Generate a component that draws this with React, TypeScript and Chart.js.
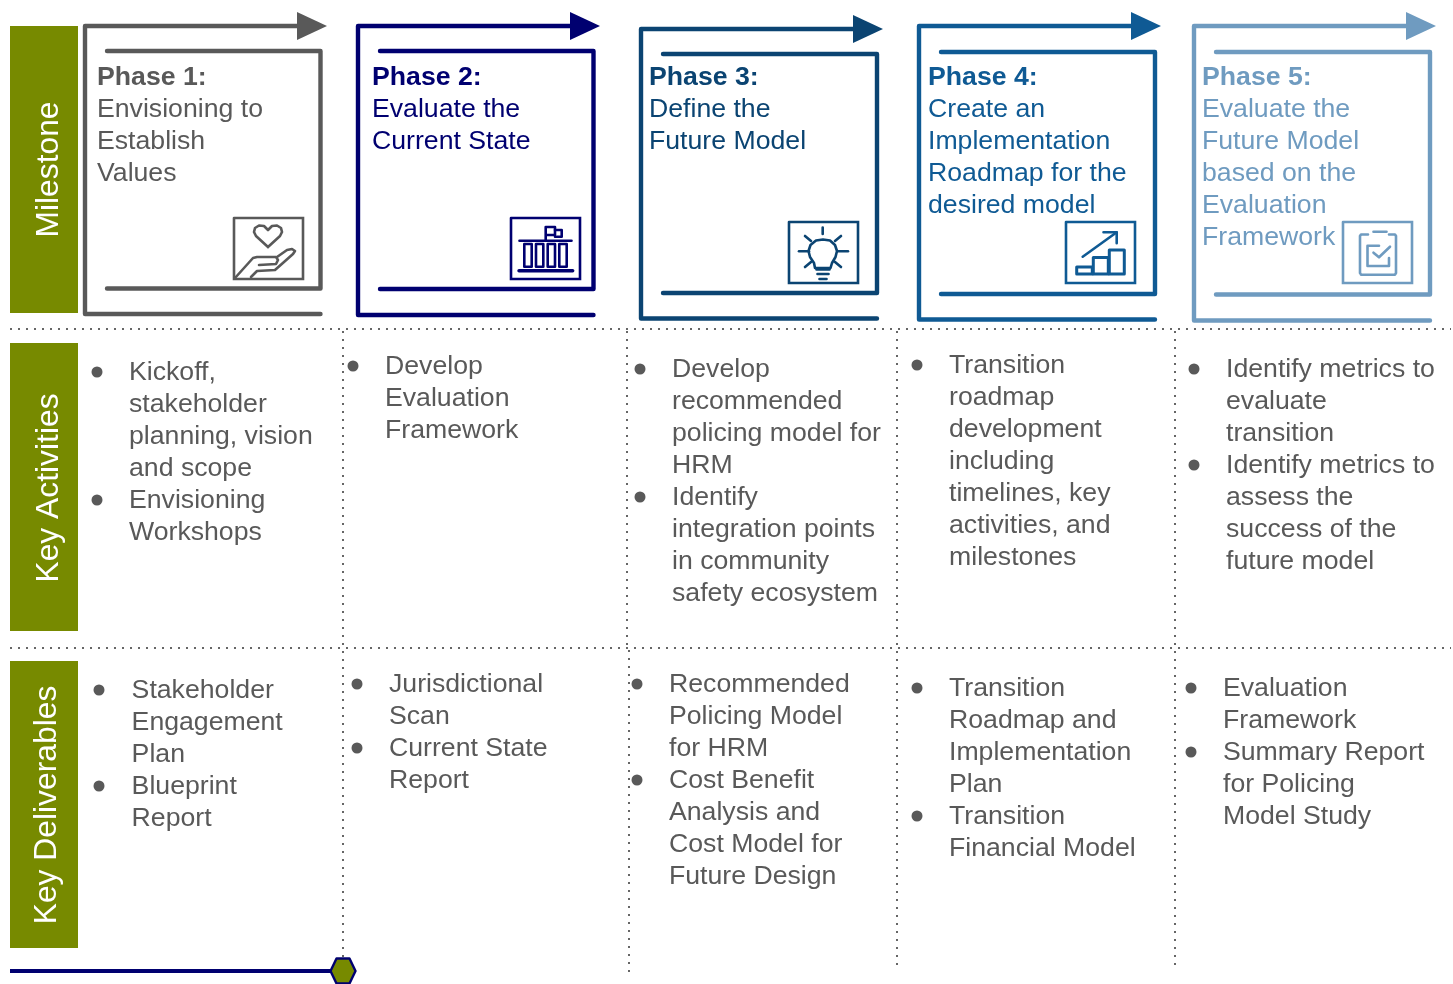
import React, { useEffect, useRef } from "react";
import { Chart, registerables } from "chart.js";

Chart.register(...registerables);

type P = [number, number];

// ---- text content ----
const rowLabels = ["Milestone", "Key Activities", "Key Deliverables"];
const phaseTitles = ["Phase 1:", "Phase 2:", "Phase 3:", "Phase 4:", "Phase 5:"];
const phaseBodies = [
  ["Envisioning to", "Establish", "Values"],
  ["Evaluate the", "Current State"],
  ["Define the", "Future Model"],
  ["Create an", "Implementation", "Roadmap for the", "desired model"],
  ["Evaluate the", "Future Model", "based on the", "Evaluation", "Framework"],
];
const activities = [
  ["Kickoff,", "stakeholder", "planning, vision", "and scope", "Envisioning", "Workshops"],
  ["Develop", "Evaluation", "Framework"],
  ["Develop", "recommended", "policing model for", "HRM", "Identify", "integration points", "in community", "safety ecosystem"],
  ["Transition", "roadmap", "development", "including", "timelines, key", "activities, and", "milestones"],
  ["Identify metrics to", "evaluate", "transition", "Identify metrics to", "assess the", "success of the", "future model"],
];
const deliverables = [
  ["Stakeholder", "Engagement", "Plan", "Blueprint", "Report"],
  ["Jurisdictional", "Scan", "Current State", "Report"],
  ["Recommended", "Policing Model", "for HRM", "Cost Benefit", "Analysis and", "Cost Model for", "Future Design"],
  ["Transition", "Roadmap and", "Implementation", "Plan", "Transition", "Financial Model"],
  ["Evaluation", "Framework", "Summary Report", "for Policing", "Model Study"],
];

// ---- colours ----
const GREY = "#595959";
const OLIVE = "#778a00";
const NAVY = "#000070";
const DOT = "#666666";
const phaseColors = [GREY, NAVY, "#0b4472", "#0f5a94", "#6f9bc0"];

// ---- layout values, in scale units ----
const phaseLeft = [85, 358, 641, 919, 1194];
const phaseRight = [320.5, 593.5, 877, 1155, 1430];
const phaseInnerLeft = [107, 380, 663, 941, 1216];
const phaseTop = [26, 26, 29, 26, 26];
const phaseInnerTop = [51, 51, 54, 52, 52];
const phaseInnerBottom = [288.5, 289, 293, 294, 294.5];
const phaseBottom = [314, 315, 318.5, 319.5, 320.5];
const arrowBase = [297, 570, 853, 1131, 1406];
const iconLeft = [234, 511, 789, 1066, 1343];
const iconRight = [303, 580, 858, 1135, 1412];
const iconTop = [218, 218, 222, 222, 222];
const iconBottom = [279, 279, 283, 283, 283];
const textX = [97, 372, 649, 928, 1202];

const bandTops = [26, 343, 661];
const bandBottoms = [313, 631, 948];
const bandLabelX = [58, 58, 56];
const bandLabelY = [169.5, 488, 805];

const activityTextX = [129, 385, 672, 949, 1226];
const activityFirstBaseline = [380, 374, 377, 373, 377];
const activityBulletX = [97, 353, 640, 917, 1194];
const activityBulletY = [[372, 500], [366], [369, 497], [365], [369, 465]];

const deliverableTextX = [131.6, 389, 669, 949, 1223];
const deliverableFirstBaseline = [698, 692, 692, 696, 696];
const deliverableBulletX = [99, 357, 637, 917, 1191];
const deliverableBulletY = [[690, 786], [684, 748], [684, 780], [688, 816], [688, 752]];

const dottedRows = [329, 648];
const dottedColumnX = [343, 627, 629, 897, 1175];
const dottedColumnStart = [331, 331, 650, 331, 331];
const dottedColumnEnd = [958, 648, 972, 971, 965];

const heart: P[] = [[268, 247], [256, 236], [254, 232], [255, 228], [259, 225.5], [264, 226], [268, 230], [272, 226], [277, 225.5], [281, 228], [282, 232], [280, 236], [268, 247]];
const hand: P[] = [[235, 278], [253, 258], [257, 257], [276, 257], [278, 260], [276, 264], [259, 265]];
const hand2: P[] = [[251, 277], [257, 271], [275, 270], [293, 254], [295, 251], [292, 249], [287, 250], [277, 257]];
const flag: P[] = [[545.7, 240], [545.7, 227], [555, 227], [555, 235], [545.7, 235]];
const flag2: P[] = [[555, 230], [561.7, 230], [561.7, 236.7], [555, 236.7]];
const roof: P[] = [[519.5, 240.7], [571.5, 240.7]];
const buildingBase: P[] = [[519, 270.7], [572.7, 270.7]];
const columnLefts = [524.3, 536, 547.7, 559.3];
const columnRights = [531.7, 543.3, 555, 566.7];
const bulb: P[] = [[815, 268], [814, 263], [810, 257], [808.5, 251], [810.5, 245], [816, 240.5], [823, 239.5], [830, 240.5], [835, 245], [837, 251], [835.5, 257], [832, 263], [830.5, 268], [815, 268]];
const bulbRays: [P, P][] = [
  [[822.7, 227.5], [822.7, 234]],
  [[805, 236], [811, 241]],
  [[841, 236], [835, 241]],
  [[799, 251.3], [809, 251.3]],
  [[838, 251.3], [848, 251.3]],
  [[805, 267], [811, 262]],
  [[841, 267], [835, 262]],
  [[816.5, 269.5], [829.5, 269.5]],
  [[817.5, 274], [828.5, 274]],
  [[819.5, 279], [826.5, 279]],
];
const growth: P[] = [[1082.7, 256.7], [1116.7, 232.3]];
const growthHead: P[] = [[1103.5, 232.3], [1116.7, 232.3], [1116.7, 243.3]];
const growthBars: [number, number, number, number][] = [
  [1076.7, 1092.3, 267, 274],
  [1093.3, 1108.3, 257.5, 274],
  [1109.3, 1124.3, 250, 274],
];
const clipBody: P[] = [[1368, 234.5], [1361, 234.5], [1360, 236], [1360, 273], [1361, 274.7], [1395, 274.7], [1396, 273], [1396, 236], [1395, 234.5], [1389, 234.5]];
const clipTop: P[] = [[1373.5, 231.7], [1386.5, 231.7]];
const clipBox: P[] = [[1379, 245.7], [1367.5, 245.7], [1367.5, 266], [1389, 266], [1389, 258]];
const clipCheck: P[] = [[1373.5, 252.7], [1379, 257.3], [1390, 246.7]];

const bottomLine: P[] = [[10, 971], [334, 971]];
const hexagon: P[] = [[330.5, 971], [336.5, 958.5], [349.5, 958.5], [355.5, 971], [349.5, 983.5], [336.5, 983.5], [330.5, 971]];

// ---- chart construction ----
type Mark = { pts: P[]; color: string; width: number; fill?: string; dash?: number[]; cap?: CanvasLineCap; join?: CanvasLineJoin };
const rect = (l: number, r: number, t: number, b: number): P[] => [[l, t], [r, t], [r, b], [l, b], [l, t]];

function buildMarks(): Mark[] {
  const m: Mark[] = [];
  bandTops.forEach((t, i) => {
    m.push({ pts: rect(10, 78, t, bandBottoms[i]), color: OLIVE, width: 0, fill: OLIVE });
  });
  dottedRows.forEach((y) => m.push({ pts: [[10, y], [1451, y]], color: DOT, width: 2, dash: [2, 6], cap: "butt" }));
  dottedColumnX.forEach((x, i) => m.push({ pts: [[x, dottedColumnStart[i]], [x, dottedColumnEnd[i]]], color: DOT, width: 2, dash: [2, 6], cap: "butt" }));
  phaseColors.forEach((c, i) => {
    m.push({
      pts: [[arrowBase[i] + 2, phaseTop[i]], [phaseLeft[i], phaseTop[i]], [phaseLeft[i], phaseBottom[i]], [phaseRight[i], phaseBottom[i]]],
      color: c,
      width: 4.4,
    });
    m.push({
      pts: [[phaseInnerLeft[i], phaseInnerTop[i]], [phaseRight[i], phaseInnerTop[i]], [phaseRight[i], phaseInnerBottom[i]], [phaseInnerLeft[i], phaseInnerBottom[i]]],
      color: c,
      width: 4.4,
    });
    m.push({
      pts: [[arrowBase[i], phaseTop[i] - 14], [arrowBase[i] + 30, phaseTop[i]], [arrowBase[i], phaseTop[i] + 14], [arrowBase[i], phaseTop[i] - 14]],
      color: c,
      width: 0,
      fill: c,
    });
    m.push({ pts: rect(iconLeft[i], iconRight[i], iconTop[i], iconBottom[i]), color: c, width: 2.6, fill: "#ffffff", join: "miter" });
  });
  const ic = (pts: P[], i: number, width = 2.6) => m.push({ pts, color: phaseColors[i], width });
  [heart, hand, hand2].forEach((p) => ic(p, 0));
  [flag, flag2, roof].forEach((p) => ic(p, 1));
  ic(buildingBase, 1, 3.4);
  columnLefts.forEach((l, k) => ic(rect(l, columnRights[k], 244, 266.7), 1, 2.6));
  ic(bulb, 2);
  bulbRays.forEach((r) => ic(r, 2));
  ic(growth, 3);
  ic(growthHead, 3);
  growthBars.forEach((b) => ic(rect(b[0], b[1], b[2], b[3]), 3, 3));
  [clipBody, clipTop, clipBox, clipCheck].forEach((p) => ic(p, 4));
  m.push({ pts: bottomLine, color: NAVY, width: 4, cap: "butt" });
  m.push({ pts: hexagon, color: NAVY, width: 2.4, fill: OLIVE });
  return m;
}

const textPlugin = {
  id: "diagramText",
  afterDatasetsDraw(chart: any) {
    const { ctx, scales } = chart;
    const X = (v: number) => scales.x.getPixelForValue(v);
    const Y = (v: number) => scales.y.getPixelForValue(v);
    const LH = 32;
    ctx.save();
    ctx.textAlign = "left";
    ctx.textBaseline = "alphabetic";
    const FS = '26.67px "Liberation Sans"';
    phaseColors.forEach((c, i) => {
      ctx.fillStyle = c;
      ctx.font = 'bold ' + FS;
      ctx.fillText(phaseTitles[i], X(textX[i]), Y(85));
      ctx.font = FS;
      phaseBodies[i].forEach((t, k) => ctx.fillText(t, X(textX[i]), Y(85 + LH * (k + 1))));
    });
    ctx.fillStyle = GREY;
    activities.forEach((lines, i) =>
      lines.forEach((t, k) => ctx.fillText(t, X(activityTextX[i]), Y(activityFirstBaseline[i] + LH * k)))
    );
    deliverables.forEach((lines, i) =>
      lines.forEach((t, k) => ctx.fillText(t, X(deliverableTextX[i]), Y(deliverableFirstBaseline[i] + LH * k)))
    );
    ctx.fillStyle = "#ffffff";
    ctx.font = '31.8px "Liberation Sans"';
    ctx.textAlign = "center";
    rowLabels.forEach((t, i) => {
      ctx.save();
      ctx.translate(X(bandLabelX[i]), Y(bandLabelY[i]));
      ctx.rotate(-Math.PI / 2);
      ctx.fillText(t, 0, 0);
      ctx.restore();
    });
    ctx.restore();
  },
};

export default function App() {
  const ref = useRef<HTMLCanvasElement | null>(null);
  useEffect(() => {
    document.body.style.margin = "0";
    const marks = buildMarks();
    const bullets: { x: number; y: number }[] = [];
    activityBulletX.forEach((x, i) => activityBulletY[i].forEach((y) => bullets.push({ x, y })));
    deliverableBulletX.forEach((x, i) => deliverableBulletY[i].forEach((y) => bullets.push({ x, y })));
    const datasets: any[] = marks.map((m, i) => ({
      data: m.pts.map(([x, y]) => ({ x, y })),
      borderColor: m.color,
      borderWidth: m.width,
      borderCapStyle: m.cap ?? "round",
      borderJoinStyle: m.join ?? "round",
      borderDash: m.dash ?? [],
      backgroundColor: m.fill ?? "transparent",
      fill: m.fill ? "shape" : false,
      pointRadius: 0,
      pointHoverRadius: 0,
      tension: 0,
      clip: false,
      order: 1000 - i,
    }));
    datasets.push({
      data: bullets,
      showLine: false,
      pointRadius: 5.5,
      pointBackgroundColor: GREY,
      pointBorderWidth: 0,
      pointStyle: "circle",
      clip: false,
      order: 0,
    });
    const chart = new Chart(ref.current as HTMLCanvasElement, {
      type: "line",
      data: { datasets },
      options: {
        animation: false,
        responsive: false,
        events: [],
        devicePixelRatio: 1,
        layout: { padding: 0, autoPadding: false },
        plugins: { legend: { display: false }, title: { display: false }, tooltip: { enabled: false } },
        scales: {
          x: { type: "linear", min: 0, max: 1453, display: false },
          y: { type: "linear", min: 0, max: 984, reverse: true, display: false },
        },
      },
      plugins: [textPlugin],
    } as any);
    return () => chart.destroy();
  }, []);
  return <canvas ref={ref} width={1453} height={984} style={{ display: "block", position: "absolute", left: 0, top: 0 }} />;
}
